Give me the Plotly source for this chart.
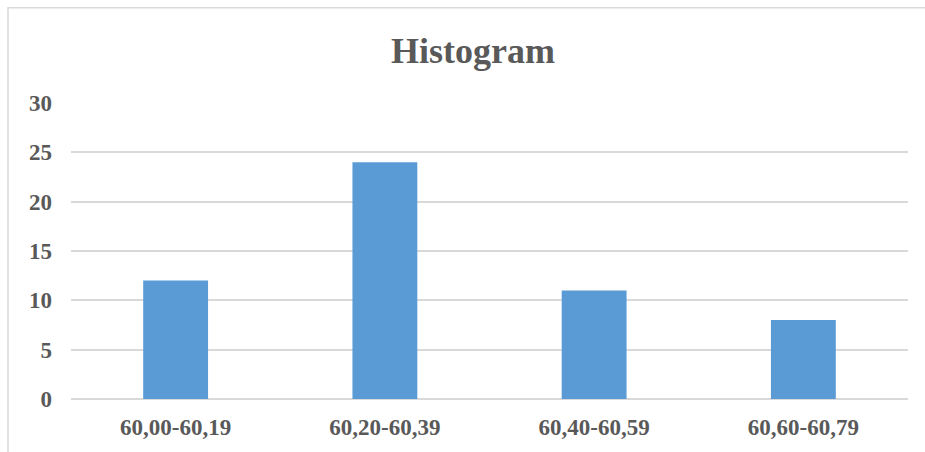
import plotly.graph_objects as go

# Frequency table
bins = ["60,00-60,19", "60,20-60,39", "60,40-60,59", "60,60-60,79"]
counts = [12, 24, 11, 8]
y_ticks = [0, 5, 10, 15, 20, 25, 30]

W, H = 925, 452
L, R, T, B = 71, 17, 103, 51
plot_w = W - L - R
plot_h = H - T - B

text_color = "#595959"
grid_color = "#d9d9d9"
serif = "Liberation Serif, Times New Roman, serif"

fig = go.Figure(
    go.Bar(
        x=bins,
        y=counts,
        marker=dict(color="#5b9bd5", line=dict(width=0)),
        hoverinfo="x+y",
    )
)

# Chart-area frame (top and left edges visible in the window)
fig.add_shape(
    type="rect",
    xref="paper", yref="paper",
    x0=(8 - L) / plot_w, x1=(W + 20 - L) / plot_w,
    y0=-(B + 20) / plot_h, y1=(H - B - 7) / plot_h,
    line=dict(color=grid_color, width=1.5),
    fillcolor="rgba(0,0,0,0)",
    layer="below",
)

fig.update_layout(
    width=W, height=H,
    margin=dict(l=L, r=R, t=T, b=B, pad=0),
    paper_bgcolor="white",
    plot_bgcolor="white",
    bargap=0.69,
    showlegend=False,
    title=dict(
        text="<b>Histogram</b>",
        x=0.5 + (L - R) / 2 / W * 0 + (473 - W / 2) / W,
        xanchor="center",
        y=1 - 50 / H,
        yanchor="middle",
        yref="container",
        font=dict(family=serif, size=36, color=text_color),
    ),
    font=dict(family=serif, color=text_color),
    xaxis=dict(
        showgrid=False,
        showline=False,
        zeroline=False,
        ticks="",
        ticklabelstandoff=12,
        tickfont=dict(family=serif, size=23, color=text_color, weight="bold"),
    ),
    yaxis=dict(
        range=[0, 30],
        tickvals=y_ticks,
        showgrid=True,
        gridcolor=grid_color,
        gridwidth=1.5,
        zeroline=True,
        zerolinecolor=grid_color,
        zerolinewidth=1.5,
        showline=False,
        ticks="",
        ticklabelstandoff=18,
        tickfont=dict(family=serif, size=23, color=text_color, weight="bold"),
    ),
)

fig.write_html("out.html")
